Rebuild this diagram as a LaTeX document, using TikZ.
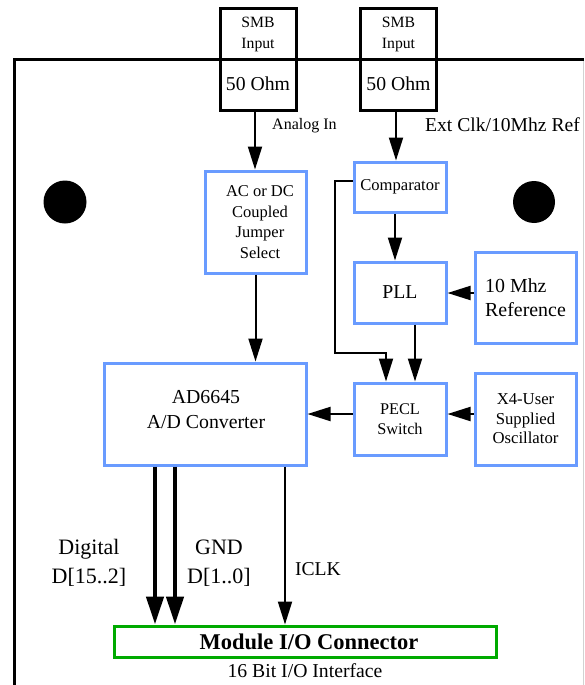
\documentclass[tikz,border=0pt]{standalone}
\usepackage{fontspec}
\setmainfont{Liberation Serif}
\usetikzlibrary{arrows.meta}
\definecolor{boxblue}{RGB}{105,155,255}
\definecolor{iogreen}{RGB}{0,170,0}
\newcommand\myfs[2]{\fontsize{#1}{#2}\selectfont}
\begin{document}
\begin{tikzpicture}[x=1pt,y=-1pt,
  bluebox/.style={draw=boxblue, line width=3pt, inner sep=0pt, align=center},
  smbbox/.style={draw=black, line width=3pt, inner sep=0pt, minimum width=76pt, minimum height=101pt},
  conn/.style={line width=2pt, -{Triangle[length=23pt,width=14pt]}},
  bus/.style={line width=4.5pt, -{Triangle[length=28pt,width=17pt]}},
  plain/.style={inner sep=0pt, align=center},
  board/.style={line width=3pt},
  hole/.style={fill=black},
]
\useasboundingbox (0,0) rectangle (584,685);

% board outline
\draw[board] (14,685) -- (14,60) -- (584,60);
\draw[gray!35, line width=1pt] (583.5,60) -- (583.5,685);

% mounting holes
\fill[hole] (65,202) circle (21.5);
\fill[hole] (534,202) circle (21);

% SMB connectors
\node[smbbox] (smb1) at (258,59.5) {};
\node[smbbox] (smb2) at (398.5,59.5) {};
\draw[board] (14,60) -- (584,60);
\node[plain, font=\myfs{15.7}{21}] (smb1t) at (258,34.5) {SMB\\Input};
\node[plain, font=\myfs{19.7}{24}] (smb1o) at (258,84) {50 Ohm};
\node[plain, font=\myfs{15.7}{21}] (smb2t) at (398.5,34.5) {SMB\\Input};
\node[plain, font=\myfs{19.7}{24}] (smb2o) at (398.5,84) {50 Ohm};

% blocks
\node[bluebox, minimum width=101pt, minimum height=102pt, font=\myfs{16.5}{20.5}] (ac) at (255.5,222) {\hspace*{9pt}AC or DC\\\hspace*{9pt}Coupled\\\hspace*{9pt}Jumper\\\hspace*{9pt}Select};
\node[bluebox, minimum width=92pt, minimum height=50pt, font=\myfs{16.6}{20}] (comp) at (400,187) {Comparator};
\node[bluebox, minimum width=92pt, minimum height=61pt, font=\myfs{19.7}{24}] (pll) at (400,292.5) {PLL};
\node[bluebox, minimum width=101pt, minimum height=91pt, font=\myfs{19.9}{24}, align=left] (ref) at (525.5,297.5) {10 Mhz\\Reference};
\node[bluebox, minimum width=92pt, minimum height=72pt, font=\myfs{16.3}{19.5}] (pecl) at (400,419) {PECL\\Switch};
\node[bluebox, minimum width=101pt, minimum height=92pt, font=\myfs{16.7}{19.5}] (xosc) at (525.5,419) {X4-User\\Supplied\\Oscillator};
\node[bluebox, minimum width=202pt, minimum height=102pt] (ad) at (205,414) {};
\node[plain, font=\myfs{19.8}{25}] (adt) at (206,409.5) {AD6645\\A/D Converter};
\node[draw=iogreen, line width=3pt, inner sep=0pt, minimum width=382pt, minimum height=31pt, font=\myfs{22.5}{26}\bfseries] (io) at (305,641.5) {\hspace*{8pt}Module I/O Connector};

% labels
\node[plain, anchor=west, font=\myfs{16}{19}] (lanalog) at (272,126) {Analog In};
\node[plain, anchor=west, font=\myfs{19.6}{24}] (lext) at (425,125) {Ext Clk/10Mhz Ref};
\node[plain, font=\myfs{22}{29}] (ldig) at (89,563) {Digital\\D[15..2]};
\node[plain, font=\myfs{22}{29}] (lgnd) at (219,563) {GND\\D[1..0]};
\node[plain, font=\myfs{19.6}{24}] (liclk) at (318,569) {ICLK};
\node[plain, font=\myfs{19.7}{24}] (lbit) at (305,671) {16 Bit I/O Interface};

% connectors
\draw[conn] ([xshift=-3pt]smb1.south) -- ([xshift=-3pt]smb1.south |- ac.north);
\draw[conn] ([xshift=-2.5pt]smb2.south) -- ([xshift=-2.5pt]smb2.south |- comp.north);
\draw[conn] ([xshift=-5pt]comp.south) -- ([xshift=-5pt]comp.south |- pll.north);
\draw[conn] ([xshift=15pt]pll.south) -- ([xshift=15pt]pll.south |- pecl.north);
\coordinate (bend) at (335,353);
\draw[conn] ([yshift=6pt]comp.west) -| (bend) -| ([xshift=-14pt]pecl.north);
\draw[conn] ([yshift=4.5pt]ref.west) -- ([yshift=4.5pt]ref.west -| pll.east);
\draw[conn] ([yshift=5pt]xosc.west) -- ([yshift=5pt]xosc.west -| pecl.east);
\draw[conn] ([yshift=5pt]pecl.west) -- ([yshift=5pt]pecl.west -| ad.east);
\draw[conn] (ac.south) -- (ac.south |- ad.north);

\coordinate (d1) at (155,0);
\coordinate (d2) at (175,0);
\coordinate (d3) at (285,0);
\draw[bus] (ad.south -| d1) -- (io.north -| d1);
\draw[bus] (ad.south -| d2) -- (io.north -| d2);
\draw[conn] (ad.south -| d3) -- (io.north -| d3);
\end{tikzpicture}
\end{document}
